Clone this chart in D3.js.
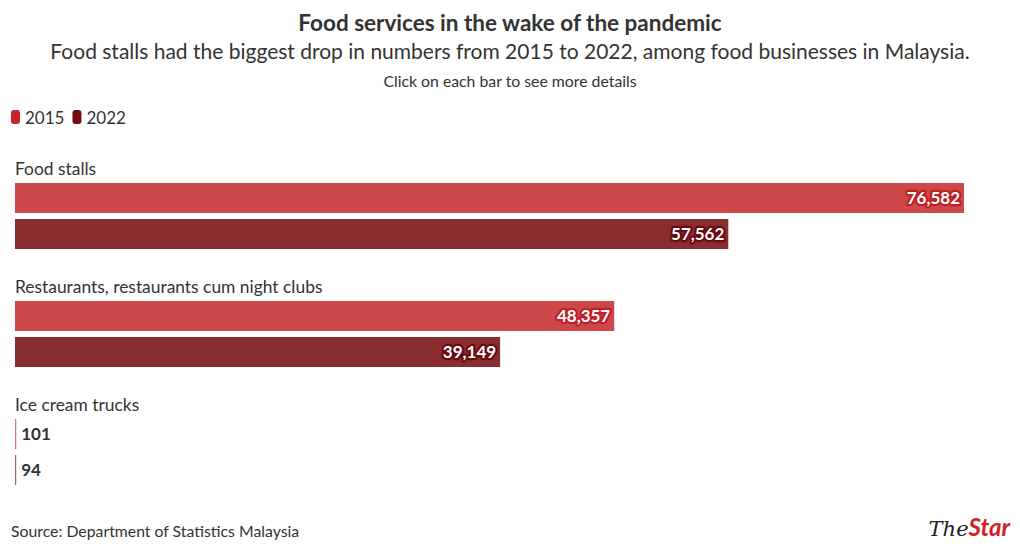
<!DOCTYPE html>
<html><head><meta charset="utf-8">
<script src="https://cdn.jsdelivr.net/npm/d3@7"></script>
<style>
body{margin:0;background:#fff;}
text{font-family:"Source Sans Pro","Lato","Noto Sans",sans-serif;}
</style></head>
<body><svg id="c" width="1020" height="554"></svg>
<script>
const categories = ["Food stalls", "Restaurants, restaurants cum night clubs", "Ice cream trucks"];
const seriesNames = ["2015", "2022"];
const values2015 = [76582, 48357, 101];
const values2022 = [57562, 39149, 94];
const barColors = ["#cc4849", "#8a2d2f"];
const legendColors = ["#c8232b", "#760b10"];
const haloColors = ["#c01f27", "#6a0a0e"];

const svg = d3.select("#c");
const W = 1020;
svg.append("text").attr("x", W/2).attr("y", 31).attr("text-anchor","middle")
  .attr("font-size", 22.5).attr("font-weight", 700).attr("fill","#333")
  .text("Food services in the wake of the pandemic");
svg.append("text").attr("x", W/2).attr("y", 59).attr("text-anchor","middle")
  .attr("font-size", 21).attr("fill","#333")
  .text("Food stalls had the biggest drop in numbers from 2015 to 2022, among food businesses in Malaysia.");
svg.append("text").attr("x", W/2).attr("y", 87).attr("text-anchor","middle")
  .attr("font-size", 15.8).attr("fill","#333")
  .text("Click on each bar to see more details");

// legend
const leg = svg.append("g");
let lx = 11;
seriesNames.forEach((s,i)=>{
  leg.append("rect").attr("x", lx).attr("y", 110).attr("width", 9).attr("height", 14).attr("rx", 3).attr("fill", legendColors[i]);
  const t = leg.append("text").attr("x", lx+14).attr("y", 124).attr("font-size", 17).attr("fill","#333").text(s);
  lx += 14 + t.node().getComputedTextLength() + 8;
});

const x = d3.scaleLinear().domain([0, 76582]).range([15, 964]);
const groupY = d3.scaleBand().domain(categories).range([155, 509]);
const inner = d3.scaleBand().domain(seriesNames).range([28, 94]).paddingInner(6/36);

const data = categories.map((c,i)=>({cat:c, vals:[values2015[i], values2022[i]]}));
const fmt = d3.format(",");
const g = svg.append("g");
data.forEach(d=>{
  const gy = groupY(d.cat);
  g.append("text").attr("x", 15).attr("y", gy+20).attr("font-size", 17.4).attr("fill","#333").text(d.cat);
  d.vals.forEach((v,j)=>{
    const y0 = gy + inner(seriesNames[j]);
    const h = inner.bandwidth();
    const w = x(v) - x(0);
    const small = w <= 80;
    g.append("rect").attr("x", x(0)).attr("y", y0).attr("width", Math.max(w,1.2)).attr("height", h)
      .attr("fill", barColors[j]).attr("opacity", small ? 0.75 : 1);
    if (!small) {
      g.append("text").attr("x", x(v)-4).attr("y", y0+h/2+6).attr("text-anchor","end")
        .attr("font-size", 17).attr("font-weight",700).attr("fill","#fff")
        .attr("stroke", haloColors[j]).attr("stroke-width", 4.5).attr("stroke-linejoin","round")
        .attr("paint-order","stroke").text(fmt(v));
    } else {
      g.append("text").attr("x", x(v)+5).attr("y", y0+h/2+6)
        .attr("font-size", 17).attr("font-weight",700).attr("fill","#333").text(fmt(v));
    }
  });
});

svg.append("text").attr("x", 11).attr("y", 537).attr("font-size", 15.8).attr("fill","#333")
  .text("Source: Department of Statistics Malaysia");
const logo = svg.append("text").attr("x", 1010).attr("y", 536).attr("text-anchor","end").attr("font-size", 24).attr("font-style","italic").attr("font-weight",700);
logo.append("tspan").attr("fill","#222").attr("font-family","DejaVu Serif, serif").attr("font-weight",400).attr("font-size",21).text("The");
logo.append("tspan").attr("fill","#d0202a").text("Star");
</script></body></html>
